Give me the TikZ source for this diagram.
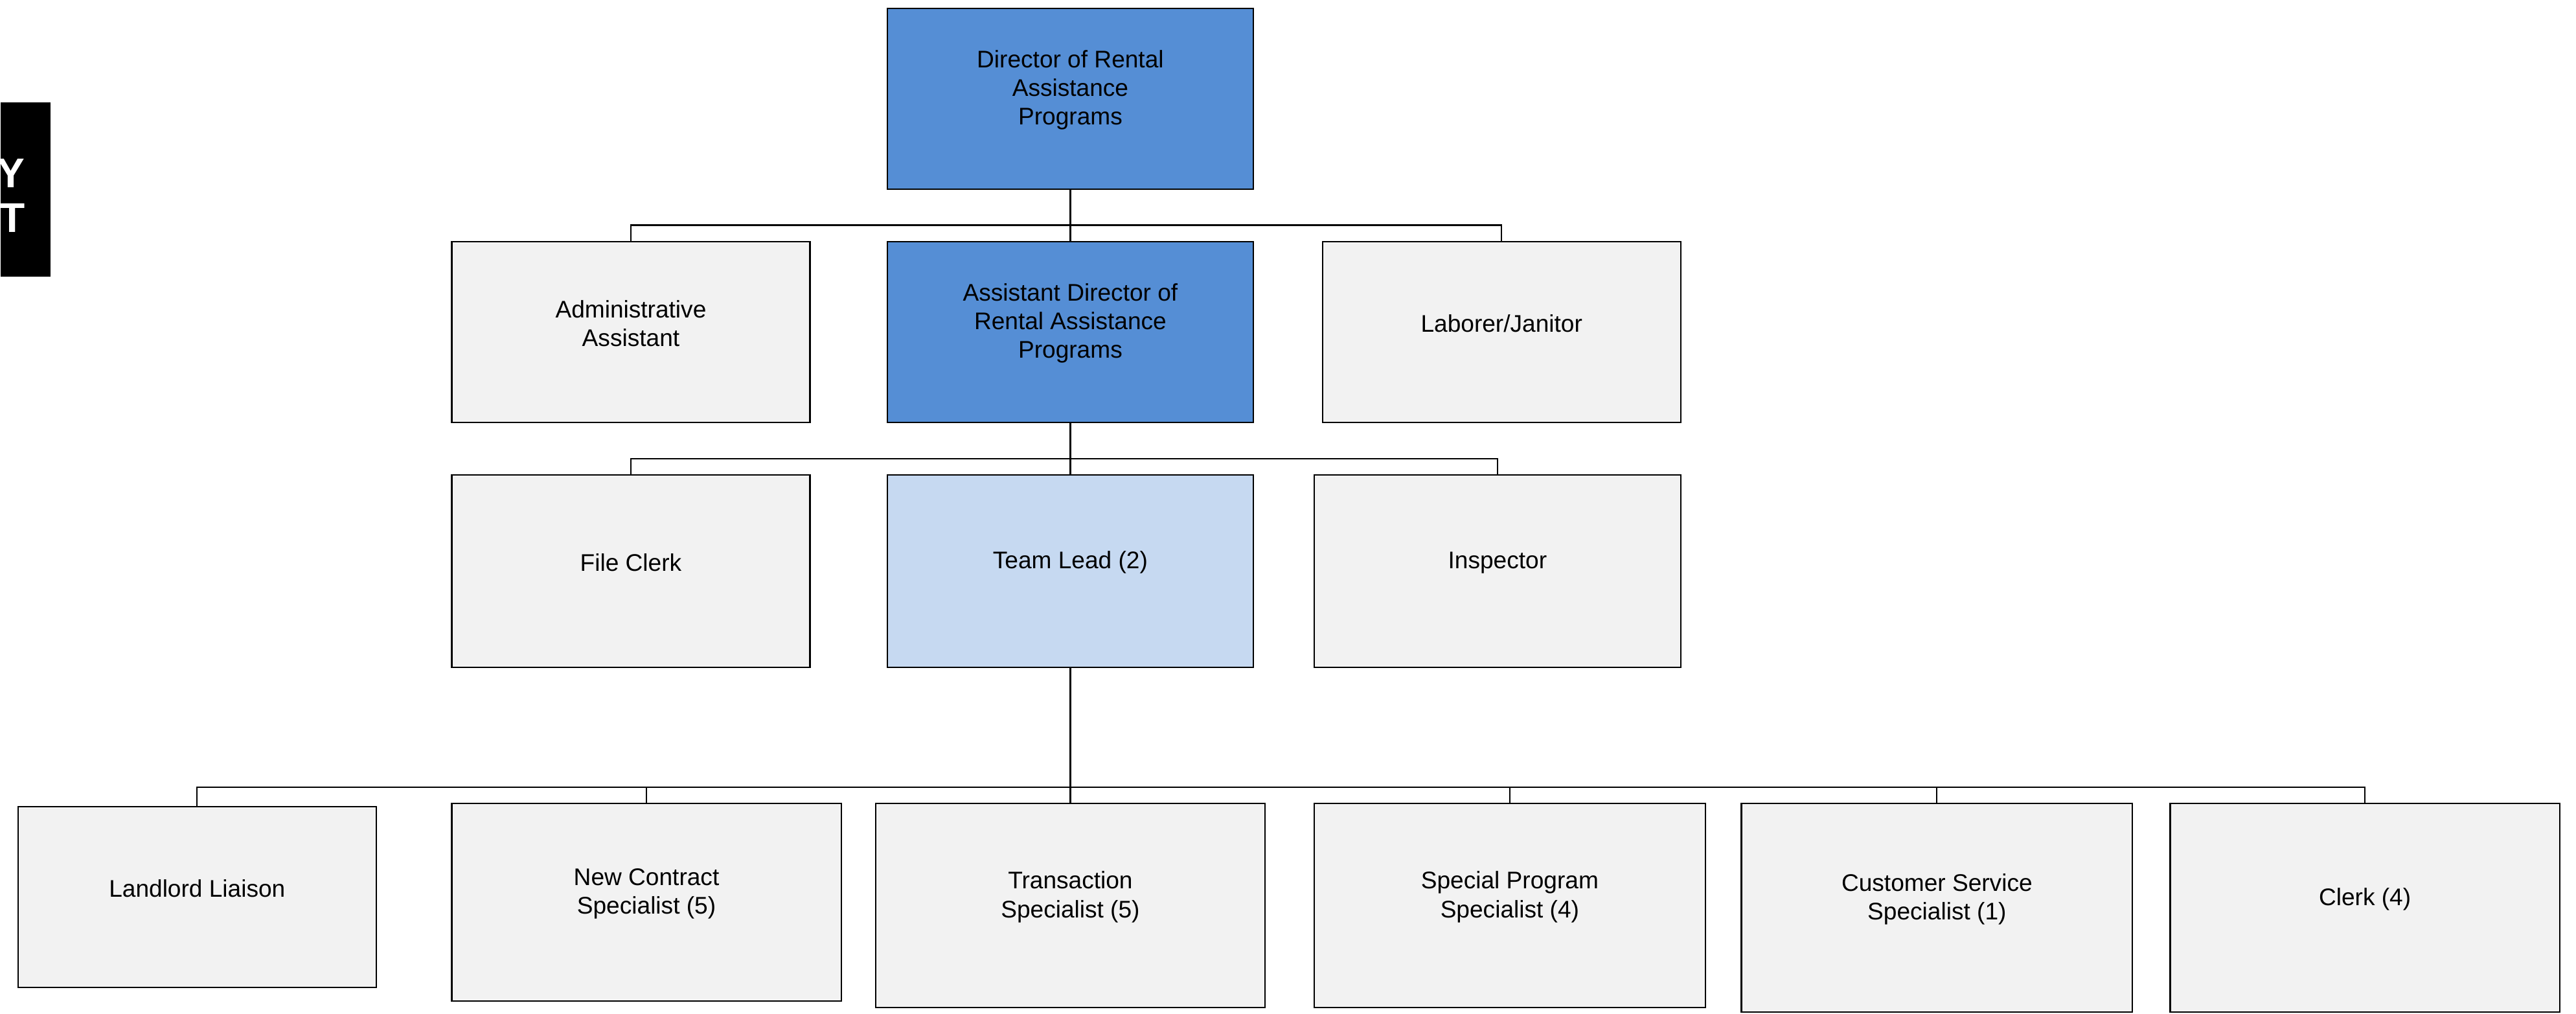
\documentclass[tikz,border=0pt]{standalone}
\usepackage{fontspec}
\setmainfont{Liberation Sans}
\definecolor{darkblue}{RGB}{85,142,213}
\definecolor{lightblue}{RGB}{198,217,241}
\definecolor{boxgrey}{RGB}{242,242,242}
\begin{document}
\begin{tikzpicture}[x=0.25mm,y=-0.25mm,
  box/.style={draw=black,line width=0.6pt,rectangle,inner sep=0pt},
  grey/.style={box,fill=boxgrey},
  dark/.style={box,fill=darkblue},
  light/.style={box,fill=lightblue},
  conn/.style={draw=black,line width=0.6pt},
  lbl/.style={font=\fontsize{10.4}{12.4}\selectfont,align=center,yshift=1.3mm},
  side/.style={text=white,font=\fontsize{18}{20}\selectfont\bfseries,inner sep=0pt}]
\useasboundingbox (0,0) rectangle (1568,617);

% side tab
\node[fill=black,inner sep=0pt,minimum width=7.6mm,minimum height=26.5mm,anchor=north west] (tab) at (0,62) {};
\node[side] (tabY) at (6.5,105.5) {Y};
\node[side] (tabT) at (7.7,132.5) {T};

% level 1
\node[dark,minimum width=55.75mm,minimum height=27.5mm,label={[lbl]center:Director of Rental\\Assistance\\Programs}] (dir) at (651.5,60) {};

% level 2
\node[grey,minimum width=54.5mm,minimum height=27.5mm,label={[lbl]center:Administrative\\Assistant}] (admin) at (384,202) {};
\node[dark,minimum width=55.75mm,minimum height=27.5mm,label={[lbl]center:Assistant Director of\\Rental Assistance\\Programs}] (asst) at (651.5,202) {};
\node[grey,minimum width=54.5mm,minimum height=27.5mm,label={[lbl]center:Laborer/Janitor}] (lab) at (914,202) {};

% level 3
\node[grey,minimum width=54.5mm,minimum height=29.25mm,label={[lbl]center:File Clerk}] (file) at (384,347.5) {};
\node[light,minimum width=55.75mm,minimum height=29.25mm,label={[lbl]center:Team Lead (2)}] (team) at (651.5,347.5) {};
\node[grey,minimum width=55.75mm,minimum height=29.25mm,label={[lbl]center:Inspector}] (insp) at (911.5,347.5) {};

% level 4
\node[grey,minimum width=54.5mm,minimum height=27.5mm,label={[lbl]center:Landlord Liaison}] (land) at (120,546) {};
\node[grey,minimum width=59.25mm,minimum height=30mm,label={[lbl]center:New Contract\\Specialist (5)}] (newc) at (393.5,549) {};
\node[grey,minimum width=59.25mm,minimum height=31mm,label={[lbl]center:Transaction\\Specialist (5)}] (trans) at (651.5,551) {};
\node[grey,minimum width=59.5mm,minimum height=31mm,label={[lbl]center:Special Program\\Specialist (4)}] (spec) at (919,551) {};
\node[grey,minimum width=59.5mm,minimum height=31.75mm,label={[lbl]center:Customer Service\\Specialist (1)}] (cust) at (1179,552.5) {};
\node[grey,minimum width=59.25mm,minimum height=31.75mm,label={[lbl]center:Clerk (4)}] (clerk) at (1439.5,552.5) {};

% connectors
\coordinate (b1) at (651.5,137);
\coordinate (b2) at (651.5,279);
\coordinate (b3) at (651.5,479);
\draw[conn] (dir.south) -- (asst.north);
\draw[conn] (admin.north) |- (b1) -| (lab.north);
\draw[conn] (asst.south) -- (team.north);
\draw[conn] (file.north) |- (b2) -| (insp.north);
\draw[conn] (team.south) -- (trans.north);
\draw[conn] (land.north) |- (b3) -| (clerk.north);
\draw[conn] (newc.north) -- (newc.north |- b3);
\draw[conn] (spec.north) -- (spec.north |- b3);
\draw[conn] (cust.north) -- (cust.north |- b3);
\end{tikzpicture}
\end{document}
